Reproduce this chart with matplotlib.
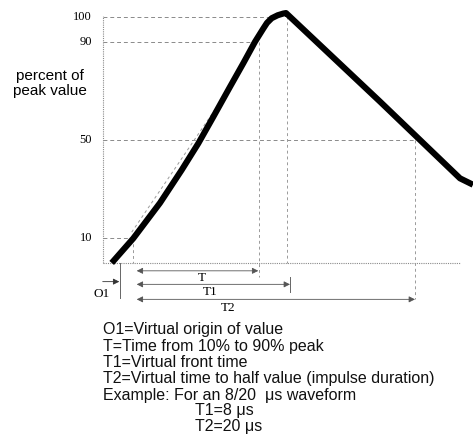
import matplotlib
matplotlib.use("Agg")
import matplotlib.pyplot as plt

# ---- data (time in arbitrary units, value in percent of peak) ----
curve_t = [0.0, 2.16, 4.83, 7.0, 8.66, 10.16, 11.83, 13.16, 14.33, 15.16, 15.53,
           16.0, 16.6, 17.16, 17.43, 26.83, 34.83, 36.13]
curve_v = [0.0, 10.0, 24.4, 37.8, 48.6, 59.4, 71.6, 81.2, 89.9, 95.3, 97.6,
           99.5, 100.7, 101.4, 101.6, 65.6, 34.4, 31.8]

tick_values = [100, 90, 50, 10]
tick_labels = ["100", "90", "50", "10"]

t_axis = -0.84       # left reference line
t_10 = 2.16          # 10 % crossing
t_90 = 14.76         # 90 % crossing
t_peak = 17.5        # peak
t_half = 30.33       # 50 % on the tail
t_o1 = 0.83          # virtual origin
t_T1 = 17.83         # virtual front time end
t_arrow_start = 2.5
t_T_end = 14.66
t_base_end = 34.83

front_t = [2.0, 11.6]
front_v = [12.5, 70.0]

legend_lines = [
    "O1=Virtual origin of value",
    "T=Time from 10% to 90% peak",
    "T1=Virtual front time",
    "T2=Virtual time to half value (impulse duration)",
    "Example: For an 8/20  \u03bcs waveform",
]
example_lines = ["T1=8 \u03bcs", "T2=20 \u03bcs"]

# ---- figure ----
fig = plt.figure(figsize=(4.73, 4.43), dpi=100)
ax = fig.add_axes([0, 0, 1, 1])
ax.set_xlim(-11.17, 36.13)
ax.set_ylim(-73.2, 106.9)
ax.axis("off")

grey = "#8a8a8a"
dash = dict(color=grey, lw=0.7, ls=(0, (4, 3)))
vdash = dict(color="#9a9a9a", lw=0.7, ls=(0, (3, 3)))
dot = dict(color=grey, lw=0.8, ls=(0, (1, 1)))

# left axis and baseline
ax.plot([t_axis, t_axis], [0, 100.5], **dot)
ax.plot([t_axis, t_base_end], [0, 0], **dot)

# horizontal guides
ax.plot([t_axis, t_peak - 1.0], [100, 100], **dash)
ax.plot([t_axis, t_90], [90, 90], **dash)
ax.plot([t_axis, t_half], [50, 50], **dash)
ax.plot([t_axis, t_10], [10, 10], **dash)

# vertical guides
ax.plot([t_10, t_10], [10, 0], **vdash)
ax.plot([t_90, t_90], [90, -5.6], **vdash)
ax.plot([t_peak, t_peak], [100.5, 0], **vdash)
ax.plot([t_half, t_half], [50, -14.8], **vdash)
ax.plot([t_o1, t_o1], [0, -14.3], color="#666666", lw=0.7)
ax.plot([t_T1, t_T1], [-5.6, -11.7], color="#666666", lw=0.7)

# virtual front line
ax.plot(front_t, front_v, color="#9a9a9a", lw=0.7, ls=(0, (3, 3)))

# main waveform
ax.plot(curve_t, curve_v, color="black", lw=4.4, solid_joinstyle="round",
        solid_capstyle="butt")

# tick labels
for v, lab in zip(tick_values, tick_labels):
    ax.text(-1.97, v, lab, ha="right", va="center", fontsize=9,
            family="Liberation Serif")

ax.text(-6.17, 76.0, "percent of", ha="center", va="center",
        fontsize=11, family="Liberation Sans")
ax.text(-6.17, 70.0, "peak value", ha="center", va="center",
        fontsize=11, family="Liberation Sans")

# arrows
def arrow(t0, t1, v):
    ax.annotate("", xy=(t1, v), xytext=(t0, v),
                arrowprops=dict(arrowstyle="<|-|>", color="#555555", lw=0.6,
                                mutation_scale=9, shrinkA=0, shrinkB=0))

arrow(t_arrow_start, t_T_end, -3.2)
arrow(t_arrow_start, t_T1, -8.7)
arrow(t_arrow_start, t_half, -14.8)
ax.annotate("", xy=(0.76, -7.6), xytext=(-0.9, -7.6),
            arrowprops=dict(arrowstyle="-|>", color="#333333", lw=0.6,
                            mutation_scale=9, shrinkA=0, shrinkB=0))

ax.text(9.0, -6.0, "T", ha="center", va="center", fontsize=9.5, family="Liberation Serif")
ax.text(9.83, -11.9, "T1", ha="center", va="center", fontsize=9.5, family="Liberation Serif")
ax.text(11.66, -18.2, "T2", ha="center", va="center", fontsize=9.5, family="Liberation Serif")
ax.text(-1.0, -12.8, "O1", ha="center", va="center", fontsize=9.5, family="Liberation Serif")

# description text
ys = [-26.9, -33.8, -40.3, -46.8, -53.7]
for y, s in zip(ys, legend_lines):
    ax.text(-0.87, y, s, ha="left", va="center", fontsize=11.5,
            family="Liberation Sans", color="#111111")
for y, s in zip([-59.8, -66.3], example_lines):
    ax.text(8.33, y, s, ha="left", va="center", fontsize=11.5,
            family="Liberation Sans", color="#111111")

fig.savefig("out.png", dpi=100)
